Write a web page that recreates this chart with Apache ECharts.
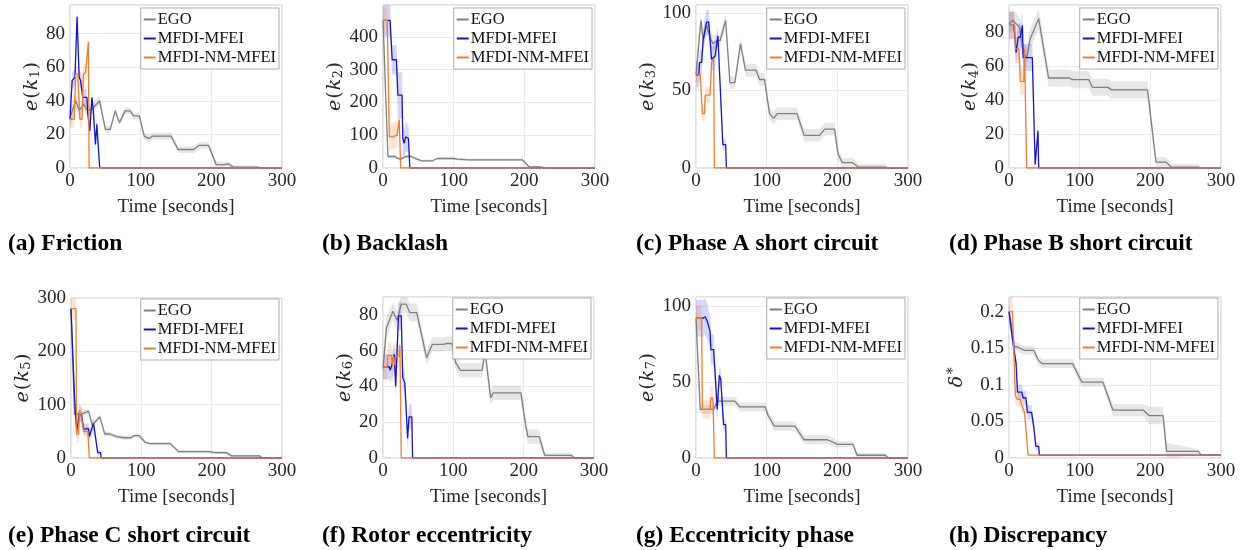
<!DOCTYPE html>
<html><head><meta charset="utf-8">
<script src="https://cdn.jsdelivr.net/npm/echarts@6/dist/echarts.min.js"></script>
<style>html,body{margin:0;padding:0;background:#fff}#c{width:1245px;height:550px}</style>
</head><body><div id="c"></div>
<script>
// Each point: [time (s), value, half-width of shaded band]
const egoA = [[0,30,6],[8,40,4],[13,34,3],[19,38,3],[25,34,3],[31,35,3],[42,40,3],[50,23,2],[57,23,2],[64,34,2],[70,27,2],[78,34,2],[85,34,2],[90,31,2],[98,31,2],[105,19,2],[112,17.5,2],[117,19,2],[143,19,2],[153,11,2],[175,11,2],[183,13.5,2],[196,13.5,2],[207,2,2],[218,2,1.5],[224,2.5,1.5],[231,0.5,1],[264,0.5,0.8],[272,0,0],[300,0,0]];
const mfeiA = [[0,29,5],[3,52,5],[7,54,5],[10,90,5],[13,54,5],[15,52,5],[17,52,5],[18,42,5],[24,42,5],[25,33,5],[27,33,5],[28,22,4],[31,42,4],[33,34,4],[36,14,4],[38,26,4],[42,0,0],[300,0,0]];
const nmA = [[0,29,5],[6,29,5],[8,56,5],[11,56,5],[14,29,5],[17,29,5],[19,56,5],[22,57,5],[24,58,5],[26,75,2],[27,0,0],[300,0,0]];

const egoB = [[0,450,30],[7,35,5],[17,35,5],[20,30,5],[25,27,5],[32,35,5],[40,35,5],[47,28,4],[55,22,4],[70,22,4],[77,29,4],[100,29,4],[105,27,4],[120,25,4],[197,25,4],[207,3,3],[222,3,3],[228,1,2],[235,0,0],[300,0,0]];
const mfeiB = [[0,450,50],[10,450,50],[13,330,45],[19,330,45],[21,222,70],[27,222,70],[28,90,50],[30,75,40],[32,95,45],[36,90,40],[38,0,0],[300,0,0]];
const nmB = [[0,450,40],[6,450,40],[9,95,40],[14,95,40],[15,100,40],[20,100,40],[23,148,10],[25,0,0],[300,0,0]];

const egoC = [[0,60,5],[7,95,5],[10,83,5],[15,92,5],[20,84,5],[24,80,5],[29,82,4],[34,82,4],[42,95,4],[48,55,4],[55,55,4],[63,80,4],[70,63,4],[85,63,4],[90,57,4],[97,57,4],[104,35,4],[110,32,4],[115,35,4],[143,35,4],[153,21,4],[175,21,4],[182,25,4],[196,25,4],[201,9,4],[207,3.5,3],[221,3.5,3],[230,0.5,2],[268,0.5,2],[272,0,0],[300,0,0]];
const mfeiC = [[0,60,8],[4,60,8],[5,68,8],[8,68,8],[10,82,8],[15,94,8],[18,94,8],[22,70,8],[27,72,8],[31,85,6],[38,15,4],[42,15,3],[43,0,0],[300,0,0]];
const nmC = [[0,60,5],[6,60,5],[9,35,5],[12,35,5],[13,47,5],[20,47,5],[22,68,3],[25,70,3],[26,0,0],[300,0,0]];

const egoD = [[0,85,6],[5,87,6],[10,85,6],[15,83,6],[20,68,6],[25,65,6],[30,76,6],[42,88,6],[56,53,5],[85,53,5],[90,52,5],[113,52,5],[118,47.5,5],[140,47.5,5],[145,46,5],[196,46,5],[208,3.5,3],[222,3.5,3],[230,0.5,2],[268,0.5,2],[272,0,0],[300,0,0]];
const mfeiD = [[0,84,8],[7,84,8],[10,68,8],[13,77,8],[16,77,8],[19,84,8],[20,65,8],[33,65,8],[37,2,2],[41,22,4],[42,0,0],[300,0,0]];
const nmD = [[0,84,8],[8,84,8],[9,70,8],[14,70,8],[16,51,8],[21,51,8],[22,70,4],[24,70,2],[25,0,0],[300,0,0]];

const egoE = [[0,280,10],[5,82,5],[15,82,5],[20,85,5],[25,88,5],[30,62,5],[41,77,5],[48,45,4],[55,45,4],[65,40,4],[75,38,4],[85,38,4],[90,42,4],[97,42,4],[105,30,3],[112,27,3],[141,27,3],[153,12,3],[195,12,3],[205,10,3],[221,10,3],[228,4,2],[268,4,2],[272,0,0],[300,0,0]];
const mfeiE = [[0,280,20],[5,115,15],[8,50,15],[12,84,15],[15,80,15],[18,54,10],[25,55,10],[26,40,10],[32,65,12],[38,10,6],[42,10,4],[43,0,0],[300,0,0]];
const nmE = [[0,280,20],[7,280,20],[8,45,15],[11,45,15],[12,90,15],[15,75,15],[18,50,10],[24,50,10],[26,0,0],[300,0,0]];

const egoF = [[0,50,8],[5,73,6],[14,82,5],[20,77,5],[26,86,5],[33,86,5],[38,81.3,5],[48,81.3,5],[62,56,4],[70,63.5,4],[85,63.5,4],[90,64,4],[98,64,4],[103,53.6,4],[110,49,4],[141,49,4],[145,60,4],[153,33.6,4],[157,36.4,4],[196,36.4,4],[203,18,4],[206,12,4],[222,12,4],[230,1.5,1.5],[268,1.5,1.5],[272,0,0],[300,0,0]];
const mfeiF = [[0,51,7],[9,51,7],[10,49,7],[12,51,7],[14,52,7],[16,58,7],[18,40,7],[22,79.4,8],[26,79.4,8],[28,45,6],[31,42,6],[35,11,6],[37,23,7],[41,23,7],[42,0,0],[300,0,0]];
const nmF = [[0,51,7],[6,51,7],[7,57.4,7],[12,57.4,7],[13,52,7],[15,57,7],[17,52,7],[18,57,7],[23,57,7],[24,63,3],[26,0,0],[300,0,0]];

const egoG = [[0,92,8],[6,32,3],[25,32,3],[30,37.4,3],[55,37.4,3],[62,33.6,3],[98,33.6,3],[102,28,3],[111,21,3],[140,21,3],[153,12,3],[186,12,3],[196,10,3],[200,9,2],[222,9,2],[228,1.8,1.5],[268,1.8,1.5],[272,0,0],[300,0,0]];
const mfeiG = [[0,92,12],[10,92,12],[13,93,12],[16,90,12],[20,83,10],[21,71.4,10],[25,71.4,10],[30,32,8],[33,54.5,6],[35,52,6],[39,22,6],[42,22,3],[43,0,0],[300,0,0]];
const nmG = [[0,92,8],[8,92,8],[9,32,6],[20,32,6],[21,39.5,8],[24,39.5,8],[26,0,0],[300,0,0]];

const egoH = [[0,0.2,0.01],[8,0.152,0.006],[12,0.152,0.006],[15,0.15,0.006],[22,0.147,0.006],[35,0.147,0.006],[42,0.133,0.006],[47,0.129,0.006],[90,0.129,0.006],[103,0.1036,0.006],[133,0.1036,0.006],[147,0.0655,0.008],[190,0.0655,0.008],[198,0.058,0.012],[218,0.058,0.012],[223,0.009,0.012],[268,0.009,0.003],[272,0.004,0],[300,0.004,0]];
const mfeiH = [[0,0.2,0.01],[6,0.1545,0.01],[10,0.13,0.01],[12,0.09,0.01],[18,0.09,0.01],[20,0.082,0.01],[24,0.082,0.01],[26,0.0623,0.01],[32,0.0623,0.01],[35,0.043,0.008],[38,0.016,0.006],[42,0.016,0.004],[43,0.004,0],[300,0.004,0]];
const nmH = [[0,0.2,0.02],[5,0.2,0.02],[9,0.085,0.01],[12,0.08,0.01],[16,0.08,0.01],[17,0.075,0.01],[22,0.062,0.006],[24,0.062,0.006],[27,0.004,0],[300,0.004,0]];

const seriesNames = ['EGO','MFDI-MFEI','MFDI-NM-MFEI'];
const captions = ['(a) Friction','(b) Backlash','(c) Phase A short circuit','(d) Phase B short circuit',
                  '(e) Phase C short circuit','(f) Rotor eccentricity','(g) Eccentricity phase','(h) Discrepancy'];
const yNames = ['1','2','3','4','5','6','7',null];
const yMax = [97,497,105,96,300,90,106,0.22];
const yStep = [20,100,50,20,100,20,50,0.05];
const xTicks = [0,100,200,300];
const panelData = [[egoA,mfeiA,nmA],[egoB,mfeiB,nmB],[egoC,mfeiC,nmC],[egoD,mfeiD,nmD],
                   [egoE,mfeiE,nmE],[egoF,mfeiF,nmF],[egoG,mfeiG,nmG],[egoH,mfeiH,nmH]];

// layout (pixels)
const layout = [
  {l:70,t:5,w:212,h:163,g:26},{l:383,t:5,w:212,h:163,g:36},{l:696,t:5,w:212,h:163,g:30},{l:1009,t:5,w:212,h:163,g:28},
  {l:71,t:298,w:211,h:160,g:32},{l:383,t:297,w:211,h:161,g:26},{l:696,t:297,w:212,h:161,g:30},{l:1009,t:297,w:212,h:161,g:34}
];
const FONT = "'Liberation Serif','Times New Roman',serif";
const MFONT = "'DejaVu Serif','Liberation Serif',serif";
const lineColors = ['#7f7f7f','#1414cc','#ee7d31'];
const bandColors = ['rgba(120,120,120,0.18)','rgba(70,70,235,0.22)','rgba(240,130,50,0.22)'];

const grids=[],xAxes=[],yAxes=[],series=[],legends=[],graphics=[];
const capX=[8,322,636,949];
panelData.forEach((pd,i)=>{
  const L = layout[i];
  grids.push({left:L.l,top:L.t,width:L.w,height:L.h,show:true,borderColor:'#c4c4c4',borderWidth:1,backgroundColor:'#fff'});
  xAxes.push({gridIndex:i,type:'value',min:xTicks[0],max:xTicks[xTicks.length-1],interval:xTicks[1]-xTicks[0],
    name:'Time [seconds]',nameLocation:'middle',nameGap:30,
    nameTextStyle:{fontFamily:FONT,fontSize:19,color:'#262626'},
    axisLine:{show:false},axisTick:{show:false},
    axisLabel:{fontFamily:FONT,fontSize:19,color:'#262626',margin:4},
    splitLine:{show:true,lineStyle:{color:'#ebebeb',width:1}}});
  const step = yStep[i];
  const yName = yNames[i] ? '{i|e}{n|(}{i|k}{s|'+yNames[i]+'}{n|)}' : '{i|δ}{p|*}';
  yAxes.push({gridIndex:i,type:'value',min:0,max:yMax[i],interval:step,
    name:yName,nameLocation:'middle',nameGap:L.g,
    nameTextStyle:{fontFamily:MFONT,fontSize:19,color:'#262626',rich:{
      i:{fontFamily:MFONT,fontStyle:'italic',fontSize:19,color:'#262626',padding:[0,0.5,0,0.5]},
      n:{fontFamily:MFONT,fontSize:19,color:'#262626',padding:[0,0.5,0,0.5]},
      s:{fontFamily:MFONT,fontSize:13,color:'#262626',verticalAlign:'bottom',padding:[8,0,0,0]},
      p:{fontFamily:MFONT,fontSize:14,color:'#262626',verticalAlign:'top',padding:[0,0,8,1]}}},
    axisLine:{show:false},axisTick:{show:false},
    axisLabel:{fontFamily:FONT,fontSize:19,color:'#262626',margin:5,
      formatter:v=>{const r=v/step; return Math.abs(r-Math.round(r))<1e-6 ? String(+v.toFixed(4)) : '';}},
    splitLine:{show:true,lineStyle:{color:'#ebebeb',width:1}}});
  // shaded bands
  pd.forEach((pts,k)=>{
    series.push({type:'custom',name:seriesNames[k]+' band',xAxisIndex:i,yAxisIndex:i,clip:true,silent:true,z:1,
      data:[[0,0]],
      renderItem:(params,api)=>{
        const up=[],lo=[];
        pts.forEach(p=>{up.push(api.coord([p[0],p[1]+p[2]]));lo.push(api.coord([p[0],p[1]-p[2]]));});
        return {type:'polygon',shape:{points:up.concat(lo.reverse())},style:{fill:bandColors[k]}};
      }});
  });
  pd.forEach((pts,k)=>{
    series.push({type:'line',name:seriesNames[k],xAxisIndex:i,yAxisIndex:i,symbol:'none',showSymbol:false,z:3+k,
      clip:true,data:pts.map(p=>[p[0],p[1]]),lineStyle:{color:lineColors[k],width:1.3},itemStyle:{color:lineColors[k]}});
  });
  legends.push({data:seriesNames,orient:'vertical',right:1245-(L.l+L.w)+3,top:L.t+(i<4?3:1),
    icon:'rect',itemWidth:12,itemHeight:2,itemGap:2,padding:[3,3,3,3],
    backgroundColor:'#fff',borderColor:'#9a9a9a',borderWidth:0.8,selectedMode:false,
    textStyle:{fontFamily:FONT,fontSize:16.5,color:'#111',padding:[0,0,0,-3]}});
  graphics.push({type:'text',left:capX[i%4],top:(i<4?245:537)-13,
    style:{text:captions[i],font:"bold 23.5px "+FONT,fill:'#000'}});
});

const chart = echarts.init(document.getElementById('c'),null,{renderer:'canvas'});
chart.setOption({animation:false,backgroundColor:'#fff',grid:grids,xAxis:xAxes,yAxis:yAxes,series:series,legend:legends,graphic:graphics});
</script></body></html>
